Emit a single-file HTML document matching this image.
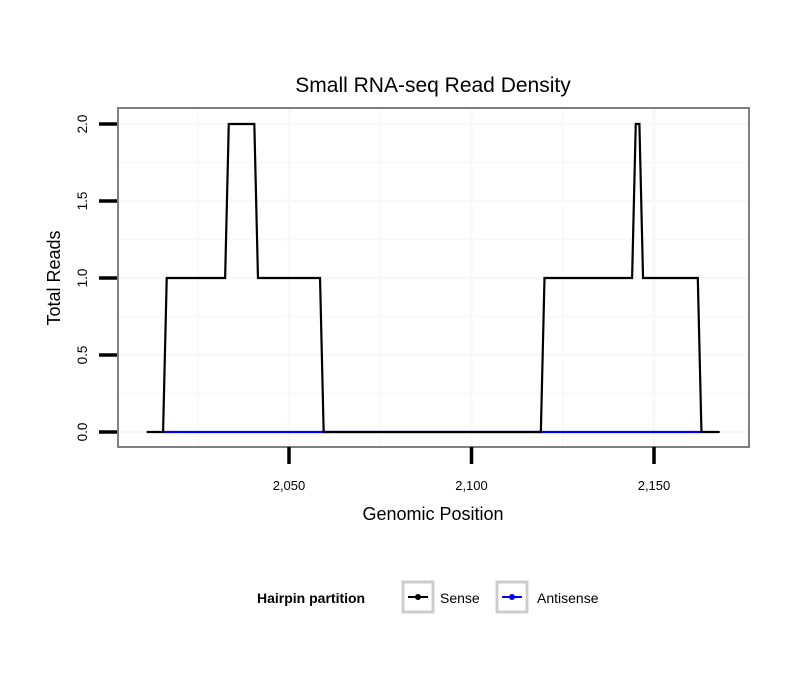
<!DOCTYPE html>
<html><head><meta charset="utf-8"><style>
body{margin:0;background:#fff;}
svg{display:block;font-family:"Liberation Sans",sans-serif;}
</style></head><body>
<svg id="chart" width="810" height="690">
<text x="433" y="92" font-size="21" text-anchor="middle">Small RNA-seq Read Density</text>
<rect x="118" y="108" width="631" height="339" fill="#fff"/>
<g id="grid"></g>
<g id="series"></g>
<rect x="118" y="108" width="631" height="339" fill="none" stroke="#7f7f7f" stroke-width="2"/>
<g id="axes"></g>
<text x="433" y="520" font-size="18" text-anchor="middle">Genomic Position</text>
<text transform="translate(60,278) rotate(-90)" font-size="18" text-anchor="middle">Total Reads</text>
<g>
<text x="257" y="603" font-size="14" font-weight="bold">Hairpin partition</text>
<g>
<rect x="403" y="582" width="30" height="30" fill="#fff" stroke="#ccc" stroke-width="3"/>
<line x1="408" y1="597" x2="428" y2="597" stroke="#000" stroke-width="2"/><circle cx="418" cy="597" r="3" fill="#000"/>
<text x="440" y="603" font-size="14">Sense</text></g>
<g>
<rect x="497" y="582" width="30" height="30" fill="#fff" stroke="#ccc" stroke-width="3"/>
<line x1="502" y1="597" x2="522" y2="597" stroke="#00f" stroke-width="2"/><circle cx="512" cy="597" r="3" fill="#00f"/>
<text x="537" y="603" font-size="14">Antisense</text></g>
</g>
</svg>
<script>
const senseX=[2011,2015.5,2016.5,2032.5,2033.5,2040.5,2041.5,2058.5,2059.5,2119,2120,2144,2145,2146,2147,2162,2163,2168];
const senseY=[0,0,1,1,2,2,1,1,0,0,1,1,2,2,1,1,0,0];
const antisenseX=[2015.5,2059.5,2119,2163];
const antisenseY=[0,0,0,0];
const xTicks=[2050,2100,2150];
const xTickLabels=["2,050","2,100","2,150"];
const yTicks=[0,0.5,1,1.5,2];
const yTickLabels=["0.0","0.5","1.0","1.5","2.0"];
const xGrid=[2025,2075,2125];
const yGrid=[0.25,0.75,1.25,1.75];
const NS="http://www.w3.org/2000/svg";
const X=v=>289+(v-2050)*3.65;
const Y=v=>432-v*154;
function mk(tag,attrs,parent){const e=document.createElementNS(NS,tag);for(const k in attrs)e.setAttribute(k,attrs[k]);parent.appendChild(e);return e;}
const grid=document.getElementById('grid'),series=document.getElementById('series'),axes=document.getElementById('axes');
[...xTicks,...xGrid].forEach(v=>{const l=mk('line',{x1:X(v),x2:X(v),y1:108,y2:447,stroke:'#f8f8f8','stroke-width':xGrid.includes(v)?1.5:2.5},grid);

});
[...yTicks,...yGrid].forEach(v=>{const l=mk('line',{x1:118,x2:749,y1:Y(v),y2:Y(v),stroke:'#f8f8f8','stroke-width':yGrid.includes(v)?1.5:2.5},grid);

});
function line(xs,ys,color,name){const p=mk('polyline',{points:xs.map((x,i)=>X(x)+','+Y(ys[i])).join(' '),fill:'none',stroke:color,'stroke-width':2.2},series);

}
line(antisenseX,antisenseY,'#0000ff','antisense-line');
line(senseX,senseY,'#000','sense-line');
xTicks.forEach((v,i)=>{const t=mk('line',{x1:X(v),x2:X(v),y1:447,y2:464,stroke:'#000','stroke-width':3.5},axes);


const tx=mk('text',{x:X(v),y:490,'font-size':13,'text-anchor':'middle'},axes);tx.textContent=xTickLabels[i];

});
yTicks.forEach((v,i)=>{const t=mk('line',{x1:99,x2:117,y1:Y(v),y2:Y(v),stroke:'#000','stroke-width':3.5},axes);


const tx=mk('text',{transform:`translate(87,${Y(v)}) rotate(-90)`,'font-size':13.5,'text-anchor':'middle'},axes);tx.textContent=yTickLabels[i];

});
</script>
</body></html>
